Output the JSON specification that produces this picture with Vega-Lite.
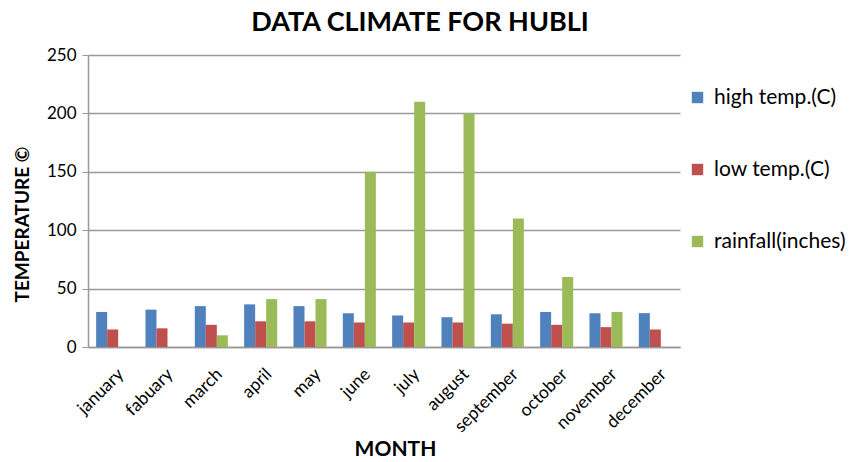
{
  "$schema": "https://vega.github.io/schema/vega-lite/v6.json",
  "autosize": "none",
  "width": 592,
  "height": 292,
  "padding": {"left": 88, "top": 55, "right": 174, "bottom": 115},
  "background": "white",
  "title": {"text": "DATA CLIMATE FOR HUBLI", "font": "Lato", "fontSize": 27, "fontWeight": "bold", "color": "black", "anchor": "middle", "dx": 36, "offset": 9},
  "data": {"values": [
    {"month": "january", "series": "high temp.(C)", "value": 30},
    {"month": "january", "series": "low temp.(C)", "value": 15},
    {"month": "january", "series": "rainfall(inches)", "value": 0},
    {"month": "fabuary", "series": "high temp.(C)", "value": 32},
    {"month": "fabuary", "series": "low temp.(C)", "value": 16},
    {"month": "fabuary", "series": "rainfall(inches)", "value": 0},
    {"month": "march", "series": "high temp.(C)", "value": 35},
    {"month": "march", "series": "low temp.(C)", "value": 19},
    {"month": "march", "series": "rainfall(inches)", "value": 10},
    {"month": "april", "series": "high temp.(C)", "value": 36.5},
    {"month": "april", "series": "low temp.(C)", "value": 22},
    {"month": "april", "series": "rainfall(inches)", "value": 41},
    {"month": "may", "series": "high temp.(C)", "value": 35},
    {"month": "may", "series": "low temp.(C)", "value": 22},
    {"month": "may", "series": "rainfall(inches)", "value": 41},
    {"month": "june", "series": "high temp.(C)", "value": 29},
    {"month": "june", "series": "low temp.(C)", "value": 21},
    {"month": "june", "series": "rainfall(inches)", "value": 150},
    {"month": "july", "series": "high temp.(C)", "value": 27},
    {"month": "july", "series": "low temp.(C)", "value": 21},
    {"month": "july", "series": "rainfall(inches)", "value": 210},
    {"month": "august", "series": "high temp.(C)", "value": 25.5},
    {"month": "august", "series": "low temp.(C)", "value": 21},
    {"month": "august", "series": "rainfall(inches)", "value": 200},
    {"month": "september", "series": "high temp.(C)", "value": 28},
    {"month": "september", "series": "low temp.(C)", "value": 20},
    {"month": "september", "series": "rainfall(inches)", "value": 110},
    {"month": "october", "series": "high temp.(C)", "value": 30},
    {"month": "october", "series": "low temp.(C)", "value": 19},
    {"month": "october", "series": "rainfall(inches)", "value": 60},
    {"month": "november", "series": "high temp.(C)", "value": 29},
    {"month": "november", "series": "low temp.(C)", "value": 17},
    {"month": "november", "series": "rainfall(inches)", "value": 30},
    {"month": "december", "series": "high temp.(C)", "value": 29},
    {"month": "december", "series": "low temp.(C)", "value": 15},
    {"month": "december", "series": "rainfall(inches)", "value": 0}
  ]},
  "mark": {"type": "bar"},
  "encoding": {
    "x": {
      "field": "month", "type": "nominal", "sort": null,
      "scale": {"paddingInner": 0.33, "paddingOuter": 0.165},
      "axis": {"title": "MONTH", "titleFont": "Lato", "titleFontSize": 21, "titleFontWeight": "bold", "titleColor": "black", "titlePadding": 3, "titleX": 307,
        "labelAngle": -45, "labelFont": "Lato", "labelFontSize": 17.5, "labelColor": "black", "labelPadding": 18, "labelOffset": 2,
        "domainColor": "#999999", "domainWidth": 1.5, "ticks": false, "grid": false}
    },
    "xOffset": {"field": "series", "type": "nominal", "sort": ["high temp.(C)", "low temp.(C)", "rainfall(inches)"]},
    "y": {
      "field": "value", "type": "quantitative",
      "scale": {"domain": [0, 250]},
      "axis": {"title": "TEMPERATURE ©", "titleFont": "Lato", "titleFontSize": 19, "titleFontWeight": "bold", "titleColor": "black", "titlePadding": 14, "titleY": 169,
        "values": [0, 50, 100, 150, 200, 250], "labelFont": "Lato", "labelFontSize": 17, "labelColor": "black", "labelPadding": 6,
        "gridColor": "#999999", "gridWidth": 1.5, "domainColor": "#999999", "domainWidth": 1.5, "tickColor": "#999999", "tickSize": 6}
    },
    "color": {
      "field": "series", "type": "nominal",
      "scale": {"domain": ["high temp.(C)", "low temp.(C)", "rainfall(inches)"], "range": ["#4F81BD", "#C0504D", "#9BBB59"]},
      "legend": {"title": null, "orient": "none", "legendX": 599, "legendY": 32, "symbolType": "square", "symbolSize": 130, "symbolStrokeWidth": 0,
        "labelFont": "Lato", "labelFontSize": 21, "labelColor": "black", "rowPadding": 50, "labelOffset": 6}
    }
  },
  "config": {"view": {"stroke": null}}
}
